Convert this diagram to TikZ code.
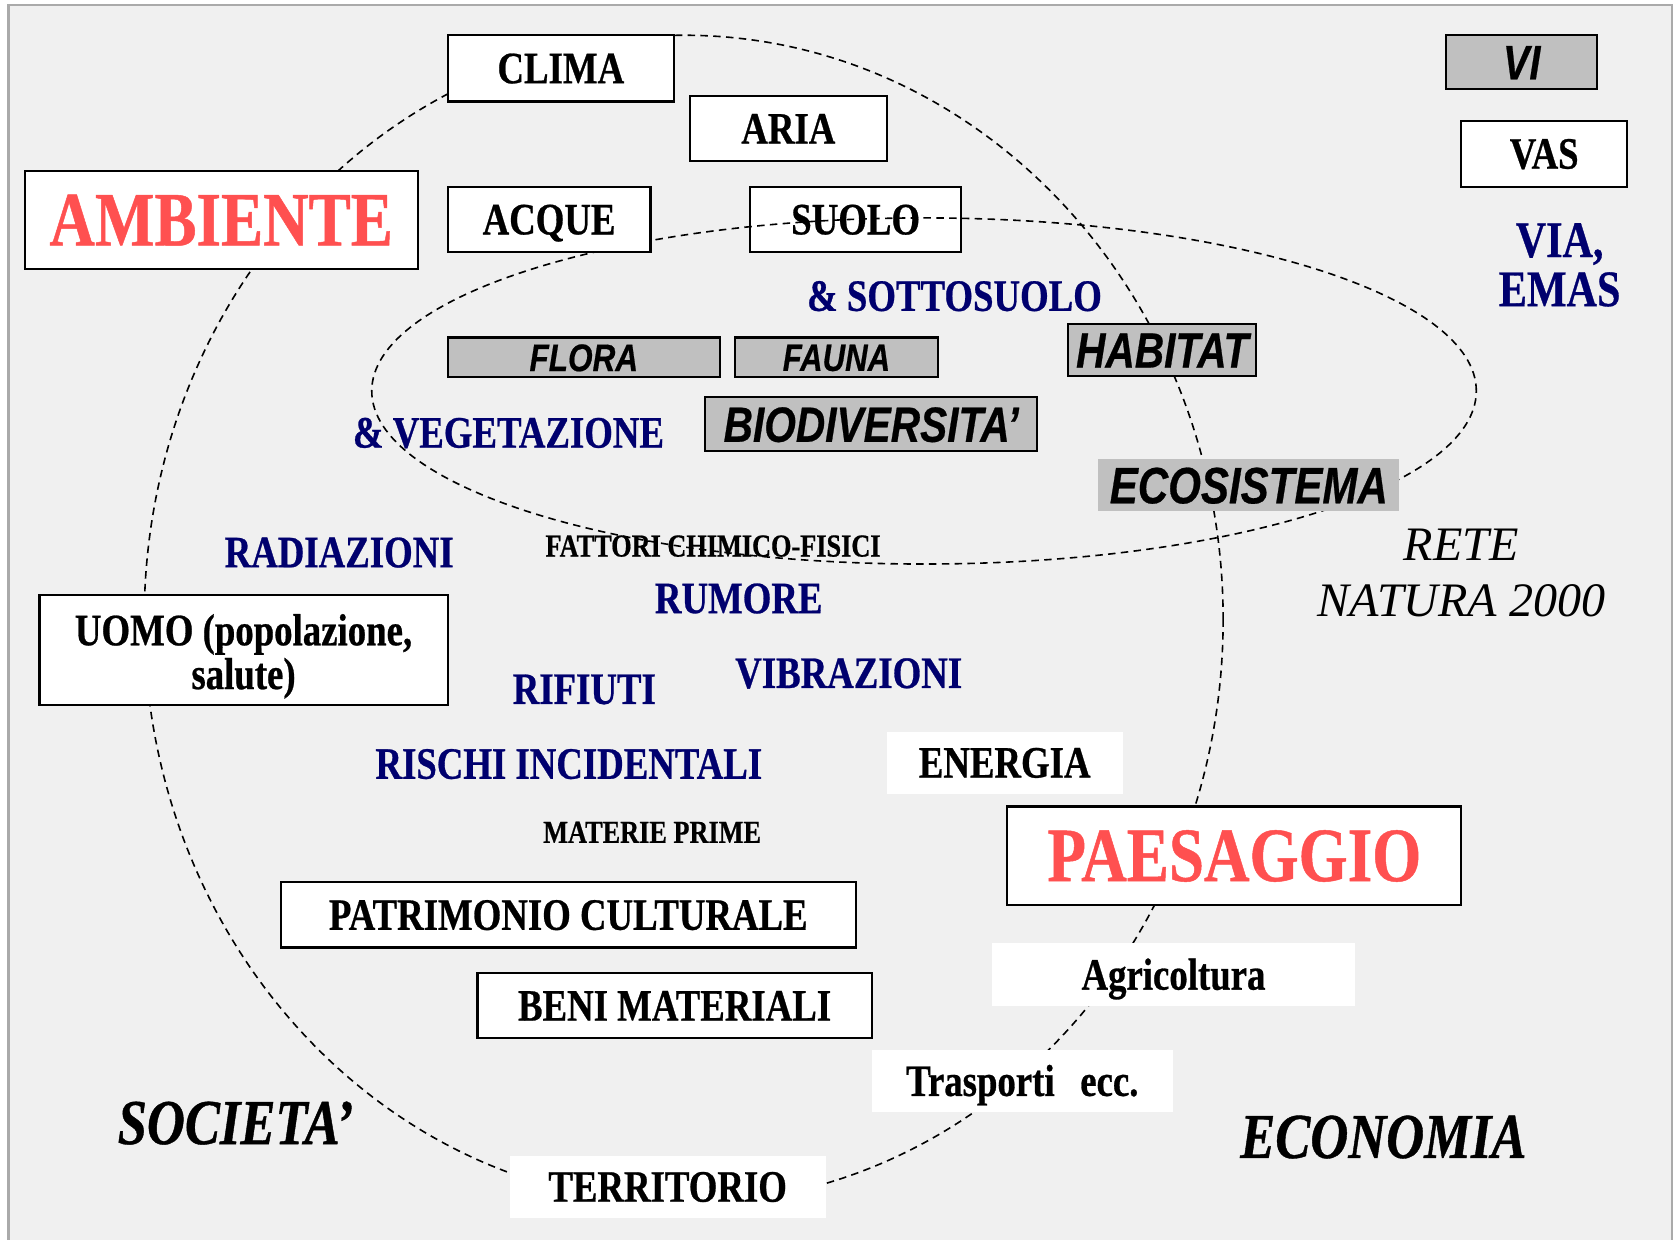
\documentclass[tikz,border=0pt]{standalone}
\usepackage{fontspec}
\newfontfamily\tms[FakeStretch=0.82,FakeBold=0.6]{Liberation Serif}
\newfontfamily\tmsn{Liberation Serif}
\newfontfamily\arl[FakeStretch=0.82,FakeBold=0.5]{Liberation Sans}
\definecolor{bgc}{RGB}{240,240,240}
\definecolor{frm}{RGB}{170,170,170}
\definecolor{grayf}{RGB}{192,192,192}
\definecolor{navy}{RGB}{0,0,110}
\definecolor{redt}{RGB}{255,80,80}
\tikzset{
  wbox/.style 2 args={draw=black, line width=1pt, fill=white, minimum width=#1*0.5pt, minimum height=#2*0.5pt, inner sep=0pt},
  gbox/.style 2 args={draw=black, line width=1pt, fill=grayf, minimum width=#1*0.5pt, minimum height=#2*0.5pt, inner sep=0pt},
  pbox/.style 2 args={fill=white, minimum width=#1*0.5pt, minimum height=#2*0.5pt, inner sep=0pt},
  sbox/.style 2 args={fill=grayf, minimum width=#1*0.5pt, minimum height=#2*0.5pt, inner sep=0pt},
  tb/.style={font=\tms\bfseries\fontsize{21}{21}\selectfont, text height=13.9pt, text depth=0pt},
  tbig/.style={font=\tms\bfseries\fontsize{36}{36}\selectfont, text height=23.8pt, text depth=0pt, text=redt},
  nv/.style={font=\tms\bfseries\fontsize{21}{21}\selectfont, text=navy, anchor=base, inner sep=0pt},
  smalltxt/.style={font=\tms\bfseries\fontsize{15}{15}\selectfont, anchor=base, inner sep=0pt},
  sv/.style={font=\arl\bfseries\itshape\fontsize{#1}{#1}\selectfont, text depth=0pt},
  bigit/.style={font=\tms\bfseries\itshape\fontsize{30}{30}\selectfont, anchor=base, inner sep=0pt},
  dsh/.style={draw=black, line width=0.75pt, dash pattern=on 3.5pt off 2.5pt},
}
\begin{document}
\begin{tikzpicture}[x=0.5pt,y=-0.5pt]
\useasboundingbox (0,0) rectangle (1568,1160);
\clip (0,0) rectangle (1568,1160);
\fill[white] (0,0) rectangle (1568,1160);
\draw[draw=frm, fill=bgc, line width=1pt] (8,5) rectangle (1565,1200);
% items under the ellipses
\node[wbox={198}{61}, tb] (suolo) at (801,205.5) {SUOLO};
\node[smalltxt] (fattori) at (667.5,521) {FATTORI CHIMICO-FISICI};
% ellipses
\draw[dsh] (865,366) ellipse [x radius=258.5pt, y radius=81pt];
\draw[dsh] (640,580) ellipse [x radius=252.5pt, y radius=273.5pt];
% boxes
\node[wbox={368}{92}, tbig] (ambiente) at (207,206) {AMBIENTE};
\node[wbox={212}{62}, tb] (clima) at (525,64) {CLIMA};
\node[wbox={184}{61}, tb] (aria) at (738,120.5) {ARIA};
\node[wbox={190}{61}, tb] (acque) at (514,205.5) {ACQUE};
\node[gbox={141}{50}, sv=22.6, text height=16.2pt] (vi) at (1424.5,58) {VI};
\node[wbox={155}{62}, tb] (vas) at (1445.5,144) {VAS};
\node[font=\tms\bfseries\fontsize{24}{23}\selectfont, text=navy, align=center, inner sep=0pt] (via) at (1460,248) {VIA,\\EMAS};
\node[nv] (sotto) at (893.5,291) {\& SOTTOSUOLO};
\node[gbox={255}{37}, sv=18, text height=12.9pt] (flora) at (546.5,334.5) {FLORA};
\node[gbox={190}{37}, sv=17.8, text height=12.7pt] (fauna) at (783,334.5) {FAUNA};
\node[gbox={176}{49}, sv=23.2, text height=16.6pt] (habitat) at (1088,327.5) {HABITAT};
\node[gbox={311}{50}, sv=23.2, text height=16.6pt] (biodiv) at (815.5,397) {BIODIVERSITA’};
\node[sbox={282}{48}, sv=24, text height=17.2pt] (ecosist) at (1169,454) {ECOSISTEMA};
\node[nv] (veget) at (476,419) {\& VEGETAZIONE};
\node[nv] (radiaz) at (317.5,531) {RADIAZIONI};
\node[font=\tmsn\itshape\fontsize{22.5}{26.5}\selectfont, align=center, inner sep=0pt] (rete) at (1368,536.5) {RETE\\NATURA 2000};
\node[nv] (rumore) at (691.5,574) {RUMORE};
\node[wbox={382}{103}, font=\tms\bfseries\fontsize{21}{20.5}\selectfont, align=center] (uomo) at (228,608.5) {\rule{0pt}{20.5pt}UOMO (popolazione,\\salute)};
\node[nv] (rifiuti) at (547,659) {RIFIUTI};
\node[nv] (vibraz) at (794.5,644) {VIBRAZIONI};
\node[nv] (rischi) at (532.5,729) {RISCHI INCIDENTALI};
\node[pbox={221}{58}, tb] (energia) at (940.5,714) {ENERGIA};
\node[smalltxt] (materie) at (610.5,789) {MATERIE PRIME};
\node[wbox={425}{92}, tbig] (paesaggio) at (1155.5,801) {PAESAGGIO};
\node[wbox={538}{61}, tb] (patrim) at (532,856.5) {PATRIMONIO CULTURALE};
\node[wbox={369}{61}, tb] (beni) at (631.5,941.5) {BENI MATERIALI};
\node[pbox={339}{59}, tb] (agri) at (1098.5,912.5) {Agricoltura};
\node[pbox={282}{58}, tb] (trasp) at (957,1012) {Trasporti\hspace{12pt}ecc.};
\node[pbox={296}{58}, tb] (territ) at (625,1111) {TERRITORIO};
\node[bigit] (societa) at (220.5,1071) {SOCIETA’};
\node[bigit] (economia) at (1295,1084) {ECONOMIA};
\end{tikzpicture}
\end{document}
